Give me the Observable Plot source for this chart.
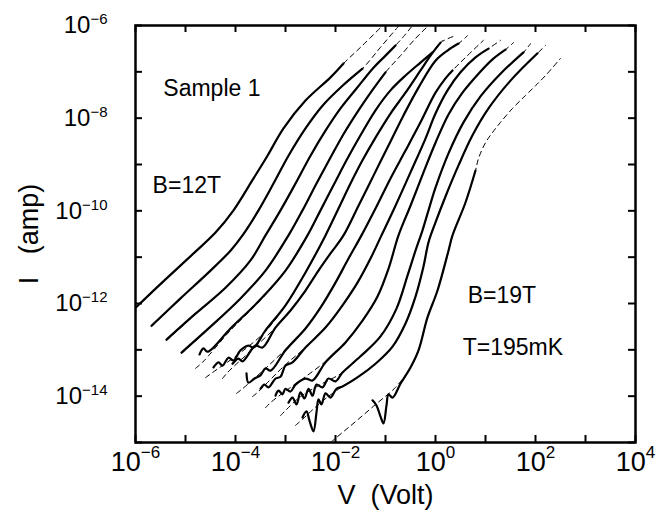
<!DOCTYPE html>
<html><head><meta charset="utf-8">
<script src="https://cdn.jsdelivr.net/npm/d3@7"></script>
<script src="https://cdn.jsdelivr.net/npm/@observablehq/plot@0.6"></script>
<style>
body{margin:0;background:#fff;}
#chart{width:660px;height:513px;}
</style></head><body><div id="chart"></div>
<script>
// Each pair is [log10(V / volt), log10(I / amp)].
// measured curves (solid)
const meas01 = [[-6.00,-12.09],[-5.40,-11.48],[-4.80,-10.88],[-4.40,-10.47],[-4.04,-9.99],[-3.64,-9.30],[-3.36,-8.81],[-3.04,-8.22],[-2.60,-7.62],[-2.10,-7.12],[-1.84,-6.82]];
const meas02 = [[-5.68,-12.48],[-5.10,-11.89],[-4.50,-11.29],[-4.10,-10.86],[-3.86,-10.53],[-3.54,-9.99],[-3.24,-9.41],[-2.94,-8.81],[-2.60,-8.22],[-2.26,-7.73],[-1.86,-7.30],[-1.46,-6.93]];
const meas03 = [[-5.38,-12.78],[-4.80,-12.22],[-4.20,-11.66],[-3.70,-11.07],[-3.40,-10.53],[-3.10,-9.99],[-2.80,-9.41],[-2.50,-8.81],[-2.20,-8.27],[-1.90,-7.79],[-1.58,-7.36],[-1.24,-6.91],[-1.00,-6.65],[-0.80,-6.43]];
const meas04 = [[-5.08,-13.06],[-4.50,-12.50],[-3.90,-11.89],[-3.40,-11.29],[-2.94,-10.53],[-2.66,-9.99],[-2.38,-9.41],[-2.10,-8.85],[-1.82,-8.31],[-1.54,-7.83],[-1.28,-7.42],[-1.00,-7.01]];
const meas05 = [[-4.72,-13.10],[-4.64,-12.97],[-4.56,-13.04],[-4.10,-12.54],[-3.50,-11.91],[-3.00,-11.29],[-2.56,-10.53],[-2.30,-9.99],[-2.04,-9.45],[-1.78,-8.91],[-1.50,-8.37],[-1.20,-7.83],[-0.90,-7.40],[-0.60,-7.08],[-0.30,-6.80],[-0.06,-6.58]];
const meas06 = [[-4.44,-13.38],[-4.34,-13.27],[-4.26,-13.34],[-4.14,-13.17],[-4.04,-13.23],[-3.90,-13.01],[-3.74,-12.91],[-3.64,-12.95],[-3.40,-12.58],[-3.00,-12.04],[-2.60,-11.33],[-2.20,-10.53],[-1.94,-9.95],[-1.70,-9.41],[-1.46,-8.91],[-1.20,-8.42],[-0.90,-7.90],[-0.60,-7.45],[-0.30,-6.97],[-0.10,-6.65],[0.10,-6.37]];
const meas07 = [[-4.06,-13.30],[-3.94,-13.19],[-3.86,-13.25],[-3.60,-12.91],[-3.46,-12.95],[-3.20,-12.52],[-2.90,-12.15],[-2.60,-11.72],[-2.34,-11.29],[-2.10,-10.92],[-1.84,-10.53],[-1.54,-9.89],[-1.24,-9.24],[-0.94,-8.59],[-0.64,-7.94],[-0.34,-7.34],[0.00,-6.76],[0.24,-6.54],[0.46,-6.39]];
const meas08 = [[-3.78,-13.51],[-3.74,-13.71],[-3.62,-13.62],[-3.50,-13.55],[-3.40,-13.40],[-3.30,-13.45],[-3.00,-13.01],[-2.60,-12.54],[-2.30,-12.09],[-2.00,-11.55],[-1.74,-11.03],[-1.48,-10.53],[-1.20,-9.95],[-0.90,-9.30],[-0.60,-8.70],[-0.30,-8.09],[0.00,-7.45],[0.20,-7.14],[0.34,-6.97]];
const meas09 = [[-3.50,-13.84],[-3.42,-13.75],[-3.34,-13.81],[-3.20,-13.62],[-3.10,-13.58],[-3.00,-13.34],[-2.86,-13.27],[-2.60,-12.95],[-2.20,-12.52],[-1.86,-12.04],[-1.56,-11.55],[-1.30,-11.03],[-1.08,-10.53],[-0.80,-9.89],[-0.50,-9.17],[-0.20,-8.44],[0.00,-7.90],[0.24,-7.40],[0.50,-7.01],[0.80,-6.69],[1.06,-6.50]];
const meas10 = [[-3.20,-13.99],[-3.14,-13.88],[-3.06,-13.96],[-3.00,-13.84],[-2.90,-13.90],[-2.80,-13.75],[-2.60,-13.62],[-2.46,-13.66],[-2.20,-13.27],[-1.80,-12.84],[-1.46,-12.37],[-1.16,-11.85],[-0.94,-11.25],[-0.74,-10.53],[-0.50,-9.89],[-0.24,-9.17],[0.00,-8.53],[0.26,-7.92],[0.54,-7.45],[0.86,-7.04],[1.14,-6.73],[1.40,-6.52]];
const meas11 = [[-2.94,-14.14],[-2.86,-14.03],[-2.78,-14.18],[-2.70,-13.92],[-2.62,-14.05],[-2.54,-13.84],[-2.46,-13.99],[-2.38,-13.75],[-2.26,-13.81],[-2.14,-13.62],[-2.00,-13.68],[-1.86,-13.49],[-1.50,-13.14],[-1.10,-12.71],[-0.78,-12.11],[-0.56,-11.40],[-0.40,-10.86],[-0.26,-10.42],[-0.14,-9.99],[0.00,-9.50],[0.26,-8.76],[0.56,-8.09],[0.90,-7.53],[1.30,-7.04],[1.76,-6.58]];
const meas12 = [[-2.66,-14.46],[-2.58,-14.33],[-2.52,-14.53],[-2.44,-14.76],[-2.38,-14.35],[-2.34,-14.07],[-2.28,-14.18],[-2.20,-13.94],[-2.10,-14.03],[-1.98,-13.84],[-1.86,-13.79],[-1.54,-13.58],[-1.20,-13.30],[-0.86,-12.93],[-0.60,-12.43],[-0.40,-11.85],[-0.24,-11.20],[-0.14,-10.68],[0.00,-10.25],[0.20,-9.69],[0.46,-9.02],[0.74,-8.37],[1.06,-7.79],[1.50,-7.19],[2.04,-6.60]];
const meas13 = [[-1.26,-14.09],[-1.18,-14.20],[-1.10,-14.44],[-1.04,-14.59],[-0.98,-14.20],[-0.94,-13.96],[-0.86,-14.03],[-0.70,-13.73],[-0.50,-13.38],[-0.34,-13.01],[-0.16,-12.30],[0.04,-11.72],[0.26,-10.86],[0.34,-10.53],[0.60,-9.82],[0.80,-9.13]];

// fitted curves (dashed)
const fit01 = [[-6.00,-12.11],[-5.40,-11.49],[-4.80,-10.89],[-4.40,-10.47],[-4.04,-9.99],[-3.64,-9.31],[-3.36,-8.81],[-3.04,-8.22],[-2.60,-7.62],[-2.10,-7.11],[-1.84,-6.82],[-1.46,-6.43],[-1.00,-5.94]];
const fit02 = [[-5.68,-12.50],[-5.10,-11.90],[-4.50,-11.29],[-4.10,-10.86],[-3.86,-10.53],[-3.54,-9.99],[-3.24,-9.41],[-2.94,-8.81],[-2.60,-8.22],[-2.26,-7.73],[-1.86,-7.30],[-1.46,-6.93],[-1.10,-6.47],[-0.76,-6.04],[-0.66,-5.91]];
const fit03 = [[-5.38,-12.80],[-4.80,-12.23],[-4.20,-11.66],[-3.70,-11.07],[-3.40,-10.53],[-3.10,-9.99],[-2.80,-9.41],[-2.50,-8.81],[-2.20,-8.27],[-1.90,-7.79],[-1.58,-7.36],[-1.24,-6.91],[-1.00,-6.65],[-0.80,-6.43],[-0.64,-6.24],[-0.46,-6.00],[-0.36,-5.85]];
const fit04 = [[-5.08,-13.08],[-4.50,-12.51],[-3.90,-11.89],[-3.40,-11.29],[-2.94,-10.53],[-2.66,-9.99],[-2.38,-9.41],[-2.10,-8.85],[-1.82,-8.31],[-1.54,-7.83],[-1.28,-7.42],[-1.00,-7.01],[-0.70,-6.65],[-0.40,-6.28],[-0.14,-6.00],[-0.04,-5.89]];
const fit05 = [[-4.80,-13.40],[-4.66,-13.27],[-4.10,-12.58],[-3.50,-11.93],[-3.00,-11.29],[-2.56,-10.53],[-2.30,-9.99],[-2.04,-9.45],[-1.78,-8.91],[-1.50,-8.37],[-1.20,-7.83],[-0.90,-7.40],[-0.60,-7.08],[-0.30,-6.80],[-0.06,-6.58],[0.14,-6.32]];
const fit06 = [[-4.60,-13.60],[-4.46,-13.49],[-3.90,-13.06],[-3.40,-12.60],[-3.00,-12.04],[-2.60,-11.33],[-2.20,-10.53],[-1.94,-9.95],[-1.70,-9.41],[-1.46,-8.91],[-1.20,-8.42],[-0.90,-7.90],[-0.60,-7.45],[-0.30,-6.97],[-0.10,-6.65],[0.10,-6.37],[0.40,-6.22]];
const fit07 = [[-4.26,-13.62],[-4.16,-13.49],[-3.60,-12.93],[-3.20,-12.52],[-2.90,-12.15],[-2.60,-11.72],[-2.34,-11.29],[-2.10,-10.92],[-1.84,-10.53],[-1.54,-9.89],[-1.24,-9.24],[-0.94,-8.59],[-0.64,-7.94],[-0.34,-7.34],[0.00,-6.76],[0.24,-6.54],[0.46,-6.39],[0.64,-6.22]];
const fit08 = [[-3.98,-13.94],[-3.86,-13.84],[-3.40,-13.40],[-3.00,-12.99],[-2.60,-12.54],[-2.30,-12.09],[-2.00,-11.55],[-1.74,-11.03],[-1.48,-10.53],[-1.20,-9.95],[-0.90,-9.30],[-0.60,-8.70],[-0.30,-8.09],[0.00,-7.45],[0.20,-7.14],[0.34,-6.97],[0.60,-6.69],[0.96,-6.32]];
const fit09 = [[-3.66,-14.01],[-3.56,-13.92],[-3.00,-13.32],[-2.60,-12.95],[-2.20,-12.52],[-1.86,-12.04],[-1.56,-11.55],[-1.30,-11.03],[-1.08,-10.53],[-0.80,-9.89],[-0.50,-9.17],[-0.20,-8.44],[0.00,-7.90],[0.24,-7.40],[0.50,-7.01],[0.80,-6.69],[1.06,-6.50],[1.30,-6.32]];
const fit10 = [[-3.40,-14.25],[-3.30,-14.14],[-2.90,-13.81],[-2.60,-13.58],[-2.20,-13.25],[-1.80,-12.84],[-1.46,-12.37],[-1.16,-11.85],[-0.94,-11.25],[-0.74,-10.53],[-0.50,-9.89],[-0.24,-9.17],[0.00,-8.53],[0.26,-7.92],[0.54,-7.45],[0.86,-7.04],[1.14,-6.73],[1.40,-6.52],[1.56,-6.37]];
const fit11 = [[-3.10,-14.42],[-3.00,-14.31],[-2.70,-14.01],[-2.30,-13.75],[-1.86,-13.49],[-1.50,-13.14],[-1.10,-12.71],[-0.78,-12.11],[-0.56,-11.40],[-0.40,-10.86],[-0.26,-10.42],[-0.14,-9.99],[0.00,-9.50],[0.26,-8.76],[0.56,-8.09],[0.90,-7.53],[1.30,-7.04],[1.76,-6.58],[1.90,-6.39]];
const fit12 = [[-2.80,-14.63],[-2.66,-14.50],[-2.30,-14.14],[-1.86,-13.79],[-1.54,-13.58],[-1.20,-13.30],[-0.86,-12.93],[-0.60,-12.43],[-0.40,-11.85],[-0.24,-11.20],[-0.14,-10.68],[0.00,-10.25],[0.20,-9.69],[0.46,-9.02],[0.74,-8.37],[1.06,-7.79],[1.50,-7.19],[2.04,-6.60],[2.20,-6.43]];
const fit13 = [[-2.50,-15.39],[-2.00,-14.91],[-1.60,-14.55],[-1.20,-14.18],[-0.80,-13.81],[-0.50,-13.38],[-0.34,-13.01],[-0.16,-12.30],[0.04,-11.72],[0.26,-10.86],[0.34,-10.53],[0.60,-9.82],[0.80,-9.13],[0.86,-8.87],[1.00,-8.53],[1.14,-8.31],[1.30,-8.09],[1.54,-7.79],[1.80,-7.51],[2.00,-7.30],[2.20,-7.08],[2.50,-6.71]];

// axes
const xTicks = [1e-6,1e-5,1e-4,1e-3,1e-2,1e-1,1,1e1,1e2,1e3,1e4];
const xLabels = [1e-6,1e-4,1e-2,1,1e2,1e4];
const yTicks = [1e-15,1e-14,1e-13,1e-12,1e-11,1e-10,1e-9,1e-8,1e-7,1e-6];
const yLabels = [1e-14,1e-12,1e-10,1e-8,1e-6];

// annotations
const noteText = ["Sample 1","B=12T","B=19T","T=195mK"];
const noteV = [3.6e-6, 2.2e-6, 4.4, 3.5];
const noteI = [4.4e-8, 3.5e-10, 1.5e-12, 1.1e-13];

const measSets = [meas01,meas02,meas03,meas04,meas05,meas06,meas07,meas08,meas09,meas10,meas11,meas12,meas13];
const fitSets = [fit01,fit02,fit03,fit04,fit05,fit06,fit07,fit08,fit09,fit10,fit11,fit12,fit13];
const toRows = sets => sets.flatMap((pts, k) => pts.map(([lv, li]) => ({id: k, V: 10 ** lv, I: 10 ** li})));
const measRows = toRows(measSets);
const fitRows = toRows(fitSets);
const expFmt = d => "10^" + Math.round(Math.log10(d));

const plot = Plot.plot({
  width: 660, height: 513,
  marginLeft: 135, marginRight: 25, marginTop: 25, marginBottom: 71,
  style: {fontFamily: "'Liberation Sans', Arial, Helvetica, sans-serif", background: "white", color: "black", overflow: "visible"},
  x: {type: "log", domain: [1e-6, 1e4]},
  y: {type: "log", domain: [1e-15, 1e-6]},
  marks: [
    Plot.line(fitRows, {x: "V", y: "I", z: "id", stroke: "black", strokeWidth: 1, strokeDasharray: "5,4", curve: "catmull-rom", clip: true}),
    Plot.line(measRows, {x: "V", y: "I", z: "id", stroke: "black", strokeWidth: 2.2, curve: "catmull-rom", clip: true}),
    Plot.tickX(xTicks, {x: d => d, insetTop: 410, strokeWidth: 2}),
    Plot.tickX(xTicks, {x: d => d, insetBottom: 410, strokeWidth: 2}),
    Plot.tickY(yTicks, {y: d => d, insetRight: 493, strokeWidth: 2}),
    Plot.tickY(yTicks, {y: d => d, insetLeft: 493, strokeWidth: 2}),
    Plot.axisX({ticks: xLabels, anchor: "bottom", tickSize: 0, tickPadding: 9, fontSize: 27, tickFormat: expFmt, label: null}),
    Plot.axisY({ticks: yLabels, anchor: "left", tickSize: 0, tickPadding: 28, fontSize: 24, tickFormat: expFmt, label: null}),
    Plot.frame({strokeWidth: 2.5}),
    Plot.text(noteText, {x: noteV, y: noteI, text: d => d, textAnchor: "start", fontSize: 23}),
    Plot.text(["V\u00a0\u00a0(Volt)"], {frameAnchor: "bottom", text: d => d, textAnchor: "middle", lineAnchor: "middle", dy: 53, fontSize: 27}),
    Plot.text(["I\u00a0\u00a0\u00a0(amp)"], {frameAnchor: "left", text: d => d, textAnchor: "middle", lineAnchor: "middle", dx: -106, rotate: -90, fontSize: 27})
  ]
});

// turn "10^-6" tick labels into 10 with a raised exponent
const NS = "http://www.w3.org/2000/svg";
[["x", "-13", 17], ["y", "-9", 15]].forEach(([k, dy, fs]) => {
  plot.querySelectorAll(`g[aria-label="${k}-axis tick label"] text`).forEach(t => {
    const parts = t.textContent.split("^");
    if (parts.length !== 2) return;
    t.textContent = parts[0];
    const sp = document.createElementNS(NS, "tspan");
    sp.setAttribute("dy", dy);
    sp.setAttribute("font-size", fs);
    sp.textContent = parts[1].replace("-", "\u2212");
    t.appendChild(sp);
  });
});
document.getElementById("chart").appendChild(plot);
</script>
</body></html>
